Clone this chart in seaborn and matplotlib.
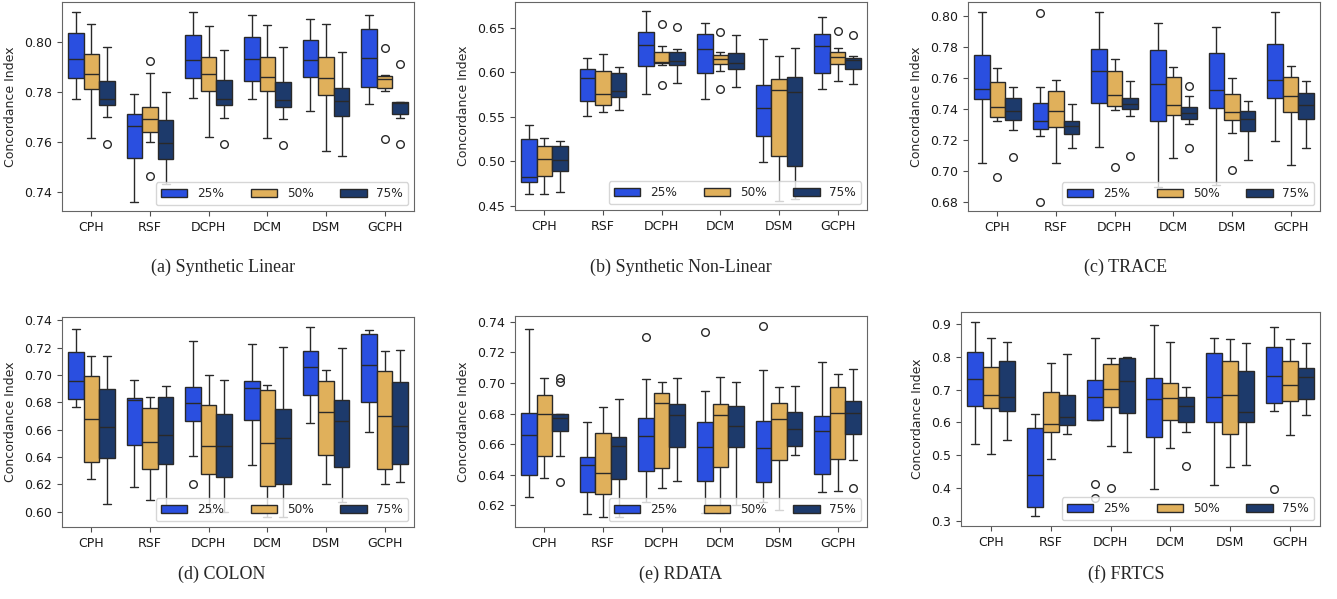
import numpy as np
import pandas as pd
import matplotlib
matplotlib.use("Agg")
import matplotlib.pyplot as plt
import seaborn as sns

MODELS = ["CPH", "RSF", "DCPH", "DCM", "DSM", "GCPH"]
FRACS = ["25%", "50%", "75%"]
COLORS = ["#2a4fe0", "#e0b05b", "#1d3a6b"]

# Box statistics, per model, per fraction (25%, 50%, 75%):
# [low whisker, Q1, median, Q3, high whisker]
LIN_STATS = [
    [[.7774, .7858, .7932, .8036, .8123], [.7615, .7811, .7871, .7952, .8071], [.7701, .7747, .7771, .7845, .7979]],
    [[.7361, .7534, .7664, .7712, .7794], [.7598, .7638, .7693, .7741, .7877], [.7430, .7531, .7594, .7686, .7799]],
    [[.7775, .7857, .7929, .8028, .8123], [.7621, .7804, .7873, .7942, .8064], [.7696, .7748, .7772, .7847, .7969]],
    [[.7771, .7845, .7932, .8020, .8110], [.7617, .7803, .7859, .7940, .8068], [.7693, .7741, .7768, .7839, .7979]],
    [[.7723, .7859, .7928, .8007, .8091], [.7565, .7787, .7855, .7940, .8072], [.7545, .7705, .7766, .7815, .7962]],
    [[.7752, .7819, .7936, .8054, .8110], [.7803, .7815, .7853, .7866, .7868], [.7697, .7711, .7755, .7761, .7761]],
]
LIN_OUT = [("CPH", "75%", .7591), ("RSF", "50%", .7925), ("RSF", "50%", .7464),
           ("DCPH", "75%", .7590), ("DCM", "75%", .7588),
           ("GCPH", "50%", .7977), ("GCPH", "50%", .7611),
           ("GCPH", "75%", .7912), ("GCPH", "75%", .7593)]

NONLIN_STATS = [
    [[.4635, .4762, .4822, .5249, .5406], [.4635, .4830, .5024, .5174, .5260], [.4657, .4886, .5013, .5174, .5227]],
    [[.5511, .5676, .5938, .6036, .6155], [.5553, .5631, .5751, .6009, .6208], [.5575, .5717, .5792, .5991, .6054]],
    [[.5751, .6069, .6302, .6455, .6684], [.6084, .6103, .6110, .6227, .6290], [.5878, .6084, .6122, .6227, .6264]],
    [[.5699, .5991, .6257, .6425, .6549], [.6017, .6092, .6152, .6189, .6223], [.5833, .6036, .6103, .6215, .6414]],
    [[.4991, .5283, .5601, .5852, .6376], [.4556, .5062, .5800, .5923, .6178], [.4575, .4950, .5777, .5949, .6268]],
    [[.5811, .5994, .6290, .6429, .6616], [.5901, .6088, .6174, .6230, .6268], [.5867, .6032, .6133, .6163, .6185]],
]
NONLIN_OUT = [("DCPH", "50%", .6541), ("DCPH", "50%", .5852), ("DCPH", "75%", .6507),
              ("DCM", "50%", .6455), ("DCM", "50%", .5815),
              ("GCPH", "50%", .6462), ("GCPH", "75%", .6418)]

TRACE_STATS = [
    [[.7049, .7464, .7530, .7749, .8026], [.7322, .7348, .7412, .7571, .7663], [.7262, .7328, .7386, .7472, .7543]],
    [[.7225, .7270, .7324, .7440, .7539], [.7054, .7283, .7386, .7513, .7586], [.7146, .7236, .7292, .7324, .7429]],
    [[.7154, .7440, .7644, .7785, .8026], [.7393, .7416, .7491, .7646, .7719], [.7352, .7397, .7433, .7472, .7577]],
    [[.6899, .7324, .7562, .7775, .7951], [.7082, .7358, .7423, .7605, .7670], [.7300, .7333, .7371, .7410, .7479]],
    [[.6906, .7403, .7521, .7762, .7925], [.7242, .7326, .7376, .7498, .7601], [.7072, .7260, .7337, .7388, .7448]],
    [[.7191, .7470, .7584, .7815, .8026], [.7039, .7378, .7481, .7607, .7678], [.7146, .7335, .7423, .7500, .7577]],
]
TRACE_OUT = [("CPH", "50%", .6963), ("CPH", "75%", .7090),
             ("RSF", "25%", .8019), ("RSF", "25%", .6803),
             ("DCPH", "50%", .7024), ("DCPH", "75%", .7097),
             ("DCM", "75%", .7545), ("DCM", "75%", .7148), ("DSM", "50%", .7004)]

COLON_STATS = [
    [[.6765, .6824, .6958, .7166, .7339], [.6240, .6365, .6677, .6995, .7141], [.6054, .6389, .6616, .6899, .7141]],
    [[.6181, .6487, .6819, .6833, .6963], [.6084, .6313, .6511, .6760, .6841], [.6030, .6348, .6558, .6838, .6919]],
    [[.6409, .6665, .6797, .6914, .7246], [.6000, .6274, .6479, .6782, .6997], [.6000, .6255, .6477, .6716, .6960]],
    [[.6338, .6670, .6902, .6953, .7224], [.5957, .6184, .6499, .6892, .6929], [.5962, .6201, .6536, .6750, .7207]],
    [[.6645, .6855, .7058, .7178, .7354], [.6203, .6411, .6726, .6958, .7039], [.6067, .6326, .6665, .6819, .7197]],
    [[.6582, .6799, .7070, .7302, .7332], [.6201, .6308, .6697, .7029, .7178], [.6216, .6348, .6628, .6951, .7185]],
]
COLON_OUT = [("DCPH", "25%", .6201)]

RDATA_STATS = [
    [[.6255, .6396, .6661, .6804, .7354], [.6382, .6523, .6795, .6924, .7029], [.6523, .6683, .6768, .6795, .6795]],
    [[.6143, .6286, .6466, .6514, .6744], [.6122, .6275, .6415, .6670, .6845], [.6122, .6374, .6591, .6648, .6893]],
    [[.6220, .6424, .6652, .6768, .7025], [.6314, .6444, .6871, .6931, .7005], [.6358, .6582, .6788, .6861, .7034]],
    [[.6150, .6360, .6584, .6742, .6946], [.6150, .6448, .6788, .6865, .7036], [.6200, .6584, .6716, .6850, .7003]],
    [[.6220, .6354, .6578, .6751, .7084], [.6170, .6496, .6762, .6871, .6970], [.6532, .6589, .6696, .6812, .6979]],
    [[.6290, .6407, .6685, .6784, .7137], [.6295, .6505, .6801, .6975, .7060], [.6494, .6668, .6806, .6882, .7089]],
]
RDATA_OUT = [("CPH", "75%", .7029), ("CPH", "75%", .7003), ("CPH", "75%", .6354),
             ("DCPH", "25%", .7300), ("DCM", "25%", .7330), ("DSM", "25%", .7374),
             ("GCPH", "75%", .6314)]

FRTCS_STATS = [
    [[.5339, .6488, .7312, .8146, .9071], [.5054, .6437, .6834, .7678, .8583], [.5471, .6356, .6763, .7881, .8441]],
    [[.3142, .3417, .4393, .5827, .6244], [.4881, .5705, .5959, .6915, .7810], [.5644, .5919, .6163, .6824, .8085]],
    [[.6081, .6081, .6773, .7281, .8583], [.5288, .6468, .7007, .7769, .7953], [.5095, .6285, .7271, .7953, .7993]],
    [[.3986, .5552, .6712, .7352, .8980], [.5237, .6081, .6742, .7190, .8441], [.5725, .6010, .6498, .6773, .7068]],
    [[.4088, .6010, .6763, .8115, .8563], [.4657, .5644, .6824, .7881, .8532], [.4698, .6010, .6315, .7556, .8420]],
    [[.6346, .6590, .7414, .8308, .8898], [.5634, .6661, .7129, .7871, .8553], [.6224, .6712, .7383, .7647, .8431]],
]
FRTCS_OUT = [("DCPH", "25%", .4129), ("DCPH", "25%", .3691), ("DCPH", "50%", .4017),
             ("DCM", "75%", .4678), ("GCPH", "25%", .3970)]

YTICKS_LIN = [0.74, 0.76, 0.78, 0.80]
YTICKS_NONLIN = [0.45, 0.50, 0.55, 0.60, 0.65]
YTICKS_TRACE = [0.68, 0.70, 0.72, 0.74, 0.76, 0.78, 0.80]
YTICKS_COLON = [0.60, 0.62, 0.64, 0.66, 0.68, 0.70, 0.72, 0.74]
YTICKS_RDATA = [0.62, 0.64, 0.66, 0.68, 0.70, 0.72, 0.74]
YTICKS_FRTCS = [0.3, 0.4, 0.5, 0.6, 0.7, 0.8, 0.9]

CAPTIONS = ["(a) Synthetic Linear", "(b) Synthetic Non-Linear", "(c) TRACE",
            "(d) COLON", "(e) RDATA", "(f) FRTCS"]
Y_LABEL = "Concordance Index"

W, H = 1337, 599

sns.set_style("ticks")
plt.rcParams.update({
    "font.family": ["DejaVu Sans"],
    "xtick.labelsize": 9,
    "ytick.labelsize": 9,
    "axes.labelsize": 9,
    "axes.edgecolor": "0.4",
    "axes.linewidth": 0.8,
    "xtick.major.size": 3.5,
    "ytick.major.size": 3.5,
    "xtick.major.width": 0.8,
    "ytick.major.width": 0.8,
    "xtick.color": "0.3",
    "ytick.color": "0.3",
    "xtick.labelcolor": "0.1",
    "ytick.labelcolor": "0.1",
})


def box_frame(stats, outs, k=40):
    rows = []
    for mi, m in enumerate(MODELS):
        for fi, f in enumerate(FRACS):
            lo, q1, med, q3, hi = stats[mi][fi]
            vals = [lo, hi] + [q1] * k + [med] * k + [q3] * k
            vals += [v for (mm, ff, v) in outs if mm == m and ff == f]
            rows += [(m, f, v) for v in vals]
    return pd.DataFrame(rows, columns=["model", "frac", "ci"])


# axes rectangles in pixels: left, top, right, bottom
RECTS = [(62, 2, 414, 211), (515, 2, 867, 210), (968, 2, 1320, 211),
         (62, 317, 414, 527), (515, 316, 867, 527), (961, 312, 1320, 526)]
CAP_POS = [(223, 267), (681, 267), (1126, 267), (222, 574), (681, 574), (1126, 574)]

PANELS = [(LIN_STATS, LIN_OUT, YTICKS_LIN), (NONLIN_STATS, NONLIN_OUT, YTICKS_NONLIN),
          (TRACE_STATS, TRACE_OUT, YTICKS_TRACE), (COLON_STATS, COLON_OUT, YTICKS_COLON),
          (RDATA_STATS, RDATA_OUT, YTICKS_RDATA), (FRTCS_STATS, FRTCS_OUT, YTICKS_FRTCS)]

fig = plt.figure(figsize=(W / 100, H / 100), dpi=100)

for i, (stats, outs, yt) in enumerate(PANELS):
    l, t, r, b = RECTS[i]
    ax = fig.add_axes([l / W, (H - b) / H, (r - l) / W, (b - t) / H])
    df = box_frame(stats, outs)
    sns.boxplot(data=df, x="model", y="ci", hue="frac", order=MODELS, hue_order=FRACS,
                palette=COLORS, saturation=1, linewidth=1.0, fliersize=5.5, ax=ax)
    ylim = ax.get_ylim()
    ax.set_yticks(yt)
    ax.set_ylim(ylim)
    ax.set_xlabel("")
    ax.set_ylabel(Y_LABEL, labelpad=5)
    old = ax.get_legend()
    handles = old.legend_handles
    labels = [tx.get_text() for tx in old.texts]
    ax.legend(handles, labels, loc="lower right", ncol=3, fontsize=8.7,
              handlelength=2.2, columnspacing=2.2, handletextpad=0.8,
              borderaxespad=0.5)
    cx, cy = CAP_POS[i]
    fig.text(cx / W, 1 - cy / H, CAPTIONS[i], ha="center", va="center",
             fontsize=13, family=["Liberation Serif", "DejaVu Serif"])

fig.savefig("out.png", dpi=100)
